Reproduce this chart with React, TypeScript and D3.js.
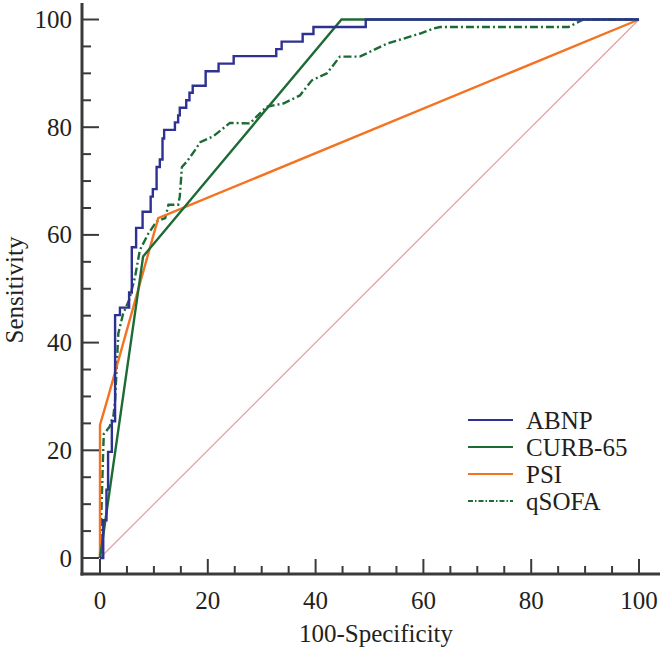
import React from "react";
import * as d3 from "d3";

// ROC data (100-Specificity, Sensitivity)
const abnpFpr = [0, 0.6, 0.6, 1.2, 1.2, 1.5, 1.5, 2.2, 2.2, 2.8, 2.8, 3.7, 3.7, 5.4, 5.4, 5.9, 5.9, 6.7, 6.7, 7.9, 7.9, 9.4, 9.4, 9.8, 9.8, 10.5, 10.5, 11.1, 11.1, 11.6, 11.6, 11.9, 11.9, 13.9, 13.9, 14.5, 14.5, 14.8, 14.8, 16.0, 16.0, 16.6, 16.6, 17.2, 17.2, 19.6, 19.6, 22.0, 22.0, 24.8, 24.8, 32.7, 32.7, 33.7, 33.7, 37.6, 37.6, 39.6, 39.6, 49.3, 49.3, 100];
const abnpTpr = [0, 0, 7.0, 7.0, 12.7, 12.7, 19.7, 19.7, 25.4, 25.4, 45.1, 45.1, 46.5, 46.5, 49.3, 49.3, 57.7, 57.7, 61.3, 61.3, 64.3, 64.3, 67.1, 67.1, 68.5, 68.5, 72.6, 72.6, 74.0, 74.0, 77.9, 77.9, 79.5, 79.5, 80.9, 80.9, 82.2, 82.2, 83.6, 83.6, 85.0, 85.0, 86.4, 86.4, 87.7, 87.7, 90.4, 90.4, 91.8, 91.8, 93.2, 93.2, 94.5, 94.5, 95.9, 95.9, 97.3, 97.3, 98.6, 98.6, 100, 100];

const curbFpr = [0, 8.0, 44.8, 100];
const curbTpr = [0, 56.0, 100, 100];

const psiFpr = [0, 0, 1.4, 10.8, 100];
const psiTpr = [0, 24.7, 29.5, 63.1, 100];

const qsofaFpr = [0, 0.3, 0.6, 0.7, 1.8, 2.5, 2.8, 3.1, 3.4, 4.3, 5.4, 6.5, 7.4, 9.0, 10.5, 12.1, 12.7, 14.5, 14.8, 15.2, 16.1, 17.6, 18.6, 21.0, 24.1, 27.8, 30.9, 34.0, 37.1, 39.3, 42.1, 44.5, 48.2, 53.2, 59.4, 61.8, 63.1, 86.9, 89.7, 100];
const qsofaTpr = [0, 10, 20, 23, 24.4, 26.5, 29.3, 35.5, 41.7, 45.4, 47.9, 52.2, 57.2, 60.3, 62.5, 63.1, 65.6, 65.6, 67.1, 72.6, 73.6, 75.7, 77.2, 78.3, 80.8, 80.7, 83.8, 84.4, 85.9, 88.7, 90.0, 93.1, 93.1, 95.5, 97.4, 98.3, 98.6, 98.6, 100, 100];

const seriesNames = ["ABNP", "CURB-65", "PSI", "qSOFA"];
const seriesColors = ["#2e3192", "#1c6b34", "#f47321", "#1c6b34"];
const seriesDash = ["none", "none", "none", "8,3,2,3"];
const diagonal = [0, 100];

const yTicksMajor = [0, 20, 40, 60, 80, 100];
const xTicksMajor = [0, 20, 40, 60, 80, 100];

export default function App() {
  const W = 662, H = 651;
  const x = d3.scaleLinear().domain([0, 100]).range([100, 639]);
  const y = d3.scaleLinear().domain([0, 100]).range([558, 19.5]);
  const minor = d3.range(0, 101, 5);
  const axisX = 82;
  const axisY = 574;
  const axisColor = "#3a3a3a";
  const textColor = "#231f20";
  const font = "'Liberation Serif', 'Times New Roman', serif";

  const line = d3.line<[number, number]>().x(d => x(d[0])).y(d => y(d[1]));
  const zip = (a: number[], b: number[]) => a.map((v, i) => [v, b[i]] as [number, number]);
  const series = [zip(abnpFpr, abnpTpr), zip(curbFpr, curbTpr), zip(psiFpr, psiTpr), zip(qsofaFpr, qsofaTpr)];
  const drawOrder = [3, 2, 1, 0];

  return (
    <svg width={W} height={H} style={{ position: "absolute", left: 0, top: 0, background: "#fff" }}>
      <rect width={W} height={H} fill="#fff" />
      {/* diagonal */}
      <path d={line(zip(diagonal, diagonal)) || ""} stroke="#e6a0a0" strokeWidth={1.3} fill="none" />
      {drawOrder.map(i => (
        <path key={i} d={line(series[i]) || ""} fill="none" stroke={seriesColors[i]}
          strokeWidth={2.4} strokeDasharray={seriesDash[i]} strokeLinejoin="miter" />
      ))}
      {/* axes */}
      <line x1={axisX} x2={axisX} y1={3} y2={axisY + 1.5} stroke={axisColor} strokeWidth={3} />
      <line x1={axisX - 1.5} x2={660} y1={axisY} y2={axisY} stroke={axisColor} strokeWidth={3} />
      {minor.map(v => {
        const major = v % 20 === 0;
        return (
          <g key={"t" + v}>
            <line x1={axisX} x2={axisX + (major ? 17 : 9)} y1={y(v)} y2={y(v)} stroke={axisColor} strokeWidth={2} />
            <line x1={x(v)} x2={x(v)} y1={axisY} y2={axisY - (major ? 15 : 8)} stroke={axisColor} strokeWidth={2} />
          </g>
        );
      })}
      {yTicksMajor.map(v => (
        <text key={"yl" + v} x={72} y={y(v) + 8.5} textAnchor="end" fontFamily={font} fontSize={25} fill={textColor}>{v}</text>
      ))}
      {xTicksMajor.map(v => (
        <text key={"xl" + v} x={x(v)} y={609} textAnchor="middle" fontFamily={font} fontSize={25} fill={textColor}>{v}</text>
      ))}
      <text x={376} y={642} textAnchor="middle" fontFamily={font} fontSize={25} fill={textColor}>100-Specificity</text>
      <text transform={`translate(23,290) rotate(-90)`} textAnchor="middle" fontFamily={font} fontSize={25} fill={textColor}>Sensitivity</text>
      {/* legend */}
      {seriesNames.map((n, i) => (
        <g key={n} transform={`translate(468,${420 + i * 27})`}>
          <line x1={0} x2={45} y1={0} y2={0} stroke={seriesColors[i]} strokeWidth={2} strokeDasharray={seriesDash[i] === "none" ? undefined : "5,2,1.5,2"} />
          <text x={58} y={8.5} fontFamily={font} fontSize={25} fill={textColor}>{n}</text>
        </g>
      ))}
    </svg>
  );
}
